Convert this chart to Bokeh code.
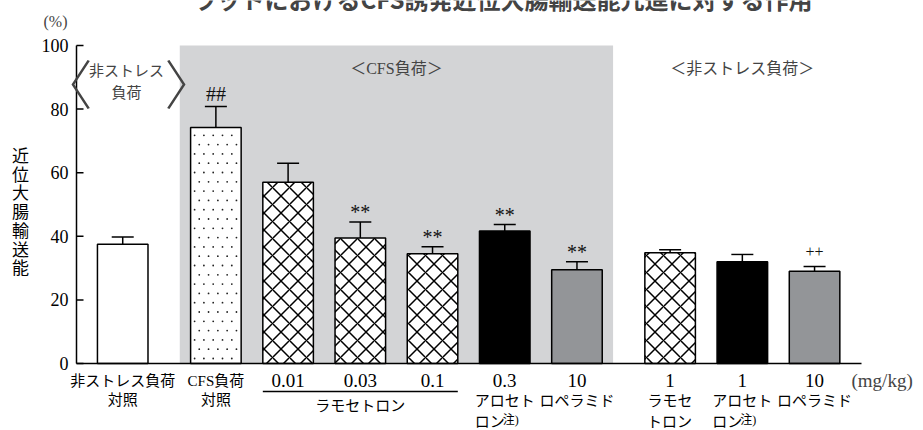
import numpy as np
from bokeh.plotting import figure
from bokeh.models import (ColumnDataSource, Label, Whisker, TeeHead)
from bokeh.core.properties import value
from bokeh.embed import file_html
from bokeh.resources import INLINE

# ---------------- data ----------------
group_of_bar = [0, 1, 1, 1, 1, 1, 1, 2, 2, 2]
doses = ["", "", "0.01", "0.03", "0.1", "0.3", "10", "1", "1", "10"]
means = [37.5, 74.2, 57.0, 39.5, 34.5, 41.7, 29.5, 34.8, 32.0, 29.0]
sems = [2.3, 6.6, 6.0, 5.0, 2.2, 2.0, 2.5, 1.0, 2.3, 1.5]
marks = ["", "##", "", "**", "**", "**", "**", "", "", "++"]
y_ticks = [0, 20, 40, 60, 80, 100]
title_text = "ラットにおけるCFS誘発近位大腸輸送能亢進に対する作用"
y_label_chars = list("近位大腸輸送能")

# ---------------- layout ----------------
W, H = 923, 430
FL, FR, FT, FB = 76, 861, 45, 363          # axis box in canvas px
GAP = 0.29
BAR_W = 0.7
xs = [i + GAP * g for i, g in enumerate(group_of_bar)]
x0, x1 = -0.64, xs[-1] + 0.65
y0, y1 = 0, 100
ppx = (FR - FL) / (x1 - x0)
ppy = (FB - FT) / (y1 - y0)
X0, X1 = x0 - FL / ppx, x1 + (W - FR) / ppx
Y0, Y1 = y0 - (H - FB) / ppy, y1 + FT / ppy


def sx2d(sx):  # canvas px -> data x
    return x0 + (sx - FL) / ppx


def sy2d(sy):  # canvas px -> data y
    return (FB - sy) / ppy


def dx(px):
    return px / ppx


def dy(px):
    return px / ppy


SERIF_S = "Liberation Serif"
JP_S = "'Liberation Serif', 'Noto Sans CJK JP'"
CJK_S = "Noto Sans CJK JP"
THIN_S = "'Noto Sans CJK JP Light', 'Noto Sans CJK JP DemiLight', 'Noto Sans CJK JP'"
SERIF = value(SERIF_S)
JP = value(JP_S)
CJK = value(CJK_S)

# ---------------- styles ----------------
bar_fill = ["white", "white", "white", "white", "white", "black", "#939598", "white", "black", "#939598"]
bar_hatch = [" ", " ", "x", "x", "x", " ", " ", "x", " ", " "]
mark_size = ["20px", "20px", "20px", "20px", "20px", "20px", "20px", "20px", "20px", "16px"]
mark_gap = [0, 4.0, 0, 3.0, 3.0, 3.0, 3.0, 0, 0, 4.6]   # px/ppy-free units above the cap

upper = [m + s for m, s in zip(means, sems)]
src = ColumnDataSource(dict(
    x=xs, top=means, upper=upper, fill=bar_fill, hatch=bar_hatch,
    mark=marks, mark_y=[u + g for u, g in zip(upper, mark_gap)], mark_size=mark_size,
))

p = figure(width=W, height=H, x_range=(X0, X1), y_range=(Y0, Y1),
           output_backend="svg", toolbar_location=None,
           x_axis_type=None, y_axis_type=None, min_border=0)
p.outline_line_color = None
p.grid.visible = False
p.background_fill_color = "white"
p.border_fill_color = "white"

# shaded CFS region
p.quad(left=xs[1] - 0.5, right=xs[6] + 0.5, bottom=y0, top=y1,
       fill_color="#d3d4d6", line_color=None)

# bars
p.vbar(x="x", top="top", bottom=0, width=BAR_W, source=src,
       fill_color="fill", line_color="black", line_width=1.5,
       hatch_pattern="hatch", hatch_scale=17, hatch_color="black", hatch_weight=1.5)

# fine stipple texture inside the CFS control bar (generated from the bar's own box)
sb = 1
bl, br, bt = xs[sb] - BAR_W / 2, xs[sb] + BAR_W / 2, means[sb]
sp = 9.3
rows = np.arange(dy(5), bt - dy(3), dy(sp))
dxs, dys = [], []
for k, yy in enumerate(rows):
    cols = np.arange(bl + dx(4 + (sp / 2) * (k % 2)), br - dx(2), dx(sp))
    dxs.extend(cols)
    dys.extend([yy] * len(cols))
p.scatter(x=dxs, y=dys, size=1.8, marker="circle", fill_color="#222222", line_color=None)

p.add_layout(Whisker(source=src, base="x", lower="top", upper="upper", dimension="height",
                     line_width=1.5, line_color="black", level="annotation",
                     upper_head=TeeHead(size=22, line_width=1.5, line_color="black"),
                     lower_head=None))

p.text(x="x", y="mark_y", text="mark", source=src, text_font=SERIF,
       text_font_size="mark_size", text_align="center", text_baseline="middle",
       text_color="#111111")

# axes (drawn by hand so that labels can sit outside the axis box)
p.segment(x0=x0, y0=y0, x1=x1, y1=y0, line_color="black", line_width=1.5)
p.segment(x0=x0, y0=y0, x1=x0, y1=y1, line_color="black", line_width=1.5)
p.segment(x0=[x0] * len(y_ticks), y0=y_ticks, x1=[x0 + dx(7)] * len(y_ticks), y1=y_ticks,
          line_color="black", line_width=1.5)
p.text(x=[x0 - dx(8)] * len(y_ticks), y=y_ticks, text=[str(t) for t in y_ticks],
       text_font=SERIF, text_font_size="18px", text_align="right", text_baseline="middle")

# group headers
g2 = sum(xs[1:7]) / 6
g3 = sum(xs[7:10]) / 3
p.add_layout(Label(x=g2, y=sy2d(68), text="＜CFS負荷＞", text_font=JP_S, text_font_size="16px",
                   text_align="center", text_baseline="middle"))
p.add_layout(Label(x=g3, y=sy2d(68), text="＜非ストレス負荷＞", text_font=JP_S, text_font_size="16px",
                   text_align="center", text_baseline="middle"))
p.add_layout(Label(x=sx2d(126), y=sy2d(70), text="非ストレス", text_font=JP_S, text_font_size="15px",
                   text_align="center", text_baseline="middle"))
p.add_layout(Label(x=sx2d(126), y=sy2d(92), text="負荷", text_font=JP_S, text_font_size="15px",
                   text_align="center", text_baseline="middle"))
p.add_layout(Label(x=sx2d(92), y=sy2d(81), text="〈", text_font=THIN_S,
                   text_font_size="53px", text_align="right", text_baseline="middle"))
p.add_layout(Label(x=sx2d(164), y=sy2d(81), text="〉", text_font=THIN_S,
                   text_font_size="53px", text_align="left", text_baseline="middle"))

# x labels row 1
p.text(x=xs, y=[sy2d(380)] * len(xs), text=doses, text_font=SERIF, text_font_size="19px",
       text_align="center", text_baseline="middle")
p.text(x=[xs[0], xs[1]], y=[sy2d(380)] * 2, text=["非ストレス負荷", "CFS負荷"],
       text_font=JP, text_font_size="15px", text_align="center", text_baseline="middle")
p.add_layout(Label(x=sx2d(851), y=sy2d(380), text="(mg/kg)", text_font=SERIF_S, text_font_size="19px",
                   text_align="left", text_baseline="middle"))

# row 2
r2x = [xs[0], xs[1], sum(xs[2:5]) / 3, xs[5], xs[6], xs[7], xs[8], xs[9]]
r2y = [sy2d(399), sy2d(399), sy2d(405), sy2d(400), sy2d(400), sy2d(400), sy2d(400), sy2d(400)]
r2t = ["対照", "対照", "ラモセトロン", "アロセト", "ロペラミド", "ラモセ", "アロセト", "ロペラミド"]
p.text(x=r2x, y=r2y, text=r2t, text_font=JP, text_font_size="15px",
       text_align="center", text_baseline="middle")
p.segment(x0=xs[2] - BAR_W / 2, y0=sy2d(391), x1=xs[4] + BAR_W / 2, y1=sy2d(391),
          line_width=1.5, line_color="black")

# row 3
r3x = [xs[5] - dx(30), xs[7] - dx(23), xs[8] - dx(30)]
p.text(x=r3x, y=[sy2d(421)] * 3, text=["ロン", "トロン", "ロン"], text_font=JP,
       text_font_size="15px", text_align="left", text_baseline="middle")
p.text(x=[xs[5] - dx(2), xs[8] - dx(2)], y=[sy2d(419)] * 2, text=["注)", "注)"],
       text_font=JP, text_font_size="12px", text_align="left", text_baseline="middle")

# y label (stacked), (%) and title
p.text(x=[sx2d(20)] * 7, y=[sy2d(154 + 18.7 * i) for i in range(7)], text=y_label_chars,
       text_font=CJK, text_font_size="17px", text_align="center", text_baseline="middle")
p.add_layout(Label(x=sx2d(55), y=sy2d(21), text="(%)", text_font=SERIF_S, text_font_size="16px",
                   text_align="center", text_baseline="middle"))
p.add_layout(Label(x=sx2d(502), y=sy2d(15), text=title_text, text_font=CJK_S,
                   text_font_size="24px", text_font_style="bold",
                   text_align="center", text_baseline="bottom"))

open("out.html", "w").write(file_html(p, INLINE))
